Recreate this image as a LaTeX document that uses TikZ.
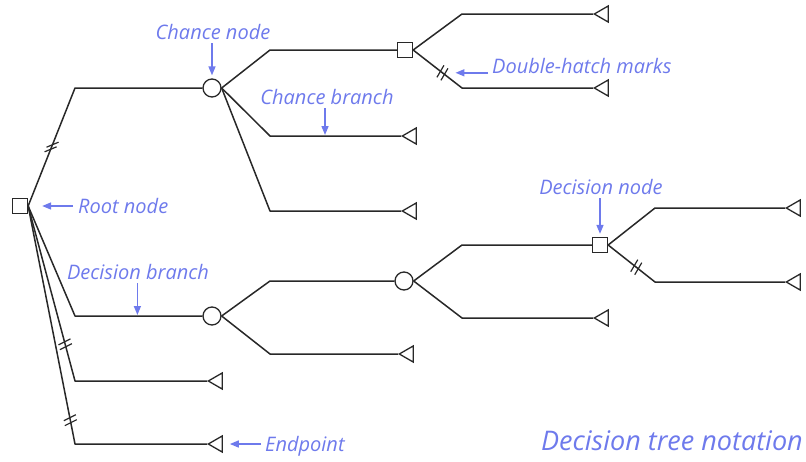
\documentclass[tikz,border=0pt]{standalone}
\usepackage{fontspec}
\setmainfont{Open Sans}
\usetikzlibrary{shapes.geometric,arrows.meta,calc}
\definecolor{lblue}{RGB}{110,122,236}
\definecolor{ink}{RGB}{40,40,40}
\newcommand\hatchmark[5]{%
  \draw[hatchline] ($(#1)-(#2,#3)-(#4,#5)$) -- ($(#1)-(#2,#3)+(#4,#5)$);
  \draw[hatchline] ($(#1)+(#2,#3)-(#4,#5)$) -- ($(#1)+(#2,#3)+(#4,#5)$);}
\begin{document}
\begin{tikzpicture}[x=1pt,y=-1pt,
  branch/.style={draw=ink, line width=1.5pt, line join=round},
  dnode/.style={draw=ink, line width=1.3pt, rectangle, minimum size=15pt, inner sep=0pt, fill=white},
  cnode/.style={draw=ink, line width=1.3pt, circle, minimum size=18pt, inner sep=0pt, fill=white},
  endpt/.style={draw=ink, line width=1.3pt, regular polygon, regular polygon sides=3, shape border rotate=90, minimum size=18.5pt, inner sep=0pt, anchor=corner 1},
  lbl/.style={text=lblue, font=\itshape\fontsize{20}{23}\selectfont, inner sep=0pt},
  pointer/.style={draw=lblue, line width=1.5pt, -{Triangle[length=9pt,width=7pt]}},
  hatchline/.style={draw=ink, line width=1.2pt}]
\useasboundingbox (0,0) rectangle (806,461);

% decision and chance nodes
\node[dnode] (root) at (20,206) {};
\node[cnode] (c1) at (212,88) {};
\node[dnode] (d1) at (405,50) {};
\node[cnode] (c2) at (212,316) {};
\node[cnode] (c3) at (404,281) {};
\node[dnode] (d2) at (600,245) {};

% endpoints
\node[endpt] (t1) at (593,14) {};
\node[endpt] (t2) at (593,88) {};
\node[endpt] (t3) at (401,136) {};
\node[endpt] (t4) at (401,211) {};
\node[endpt] (t5) at (785,208) {};
\node[endpt] (t6) at (785,282) {};
\node[endpt] (t7) at (593,318) {};
\node[endpt] (t8) at (398,354) {};
\node[endpt] (t9) at (207,381) {};
\node[endpt] (t10) at (207,444) {};

% branches from root
\draw[branch] (root.east) -- coordinate[pos=0.5] (hA) (75,0 |- c1.west) -- (c1.west);
\draw[branch] (root.east) -- (75,0 |- c2.west) -- coordinate[pos=0.49] (db) (c2.west);
\draw[branch] (root.east) -- coordinate[pos=0.79] (hB) (75,0 |- t9.corner 1) -- (t9.corner 1);
\draw[branch] (root.east) -- coordinate[pos=0.9] (hC) (75,0 |- t10.corner 1) -- (t10.corner 1);

% branches from c1
\draw[branch] (c1.east) -- (270,0 |- d1.west) -- (d1.west);
\draw[branch] (c1.east) -- (270,0 |- t3.corner 1) -- coordinate[pos=0.42] (cb) (t3.corner 1);
\draw[branch] (c1.east) -- (270,0 |- t4.corner 1) -- (t4.corner 1);

% branches from d1
\draw[branch] (d1.east) -- (462,0 |- t1.corner 1) -- (t1.corner 1);
\draw[branch] (d1.east) -- coordinate[pos=0.6] (hD) (462,0 |- t2.corner 1) -- (t2.corner 1);

% branches from c2
\draw[branch] (c2.east) -- (270,0 |- c3.west) -- (c3.west);
\draw[branch] (c2.east) -- (270,0 |- t8.corner 1) -- (t8.corner 1);

% branches from c3
\draw[branch] (c3.east) -- (462,0 |- d2.west) -- (d2.west);
\draw[branch] (c3.east) -- (462,0 |- t7.corner 1) -- (t7.corner 1);

% branches from d2
\draw[branch] (d2.east) -- (655,0 |- t5.corner 1) -- (t5.corner 1);
\draw[branch] (d2.east) -- coordinate[pos=0.6] (hE) (655,0 |- t6.corner 1) -- (t6.corner 1);

% double-hatch marks
\hatchmark{hA}{0.95}{-2.3}{6}{-2.5}
\hatchmark{hB}{0.7}{2.4}{6}{-3}
\hatchmark{hC}{0.5}{2.45}{6}{-3}
\hatchmark{hD}{2}{1.5}{3.5}{-6}
\hatchmark{hE}{2}{1.5}{3.5}{-6}

% labels
\node[lbl, anchor=base] (lcn) at (213,39) {Chance node};
\node[lbl, anchor=base] (lcb) at (327,104) {Chance branch};
\node[lbl, anchor=base west] (ldh) at (492,73) {Double-hatch marks};
\node[lbl, anchor=base west] (lrn) at (78,213) {Root node};
\node[lbl, anchor=base] (ldb) at (138,279) {Decision branch};
\node[lbl, anchor=base] (ldn) at (601,194) {Decision node};
\node[lbl, anchor=base west] (lep) at (265,451) {Endpoint};
\node[lbl, anchor=base east, font=\itshape\fontsize{27}{31}\selectfont] (title) at (803,450) {Decision tree notation};

% pointers
\draw[pointer, shorten <=4pt, shorten >=3pt] (lcn.south -| c1.north) -- (c1.north);
\draw[pointer, shorten <=4pt, shorten >=1pt] (lcb.south -| cb) -- (cb);
\draw[pointer, shorten <=4pt, shorten >=13pt] (ldh.west |- hD) -- (hD);
\draw[pointer, shorten <=5pt, shorten >=14pt] (lrn.west |- root.east) -- (root.east);
\draw[pointer, shorten <=4pt, shorten >=1pt] (ldb.south -| db) -- (db);
\draw[pointer, shorten <=4pt, shorten >=3pt] (ldn.south -| d2.north) -- (d2.north);
\draw[pointer, shorten <=4pt, shorten >=7pt] (lep.west |- t10.east) -- (t10.east);
\end{tikzpicture}
\end{document}
